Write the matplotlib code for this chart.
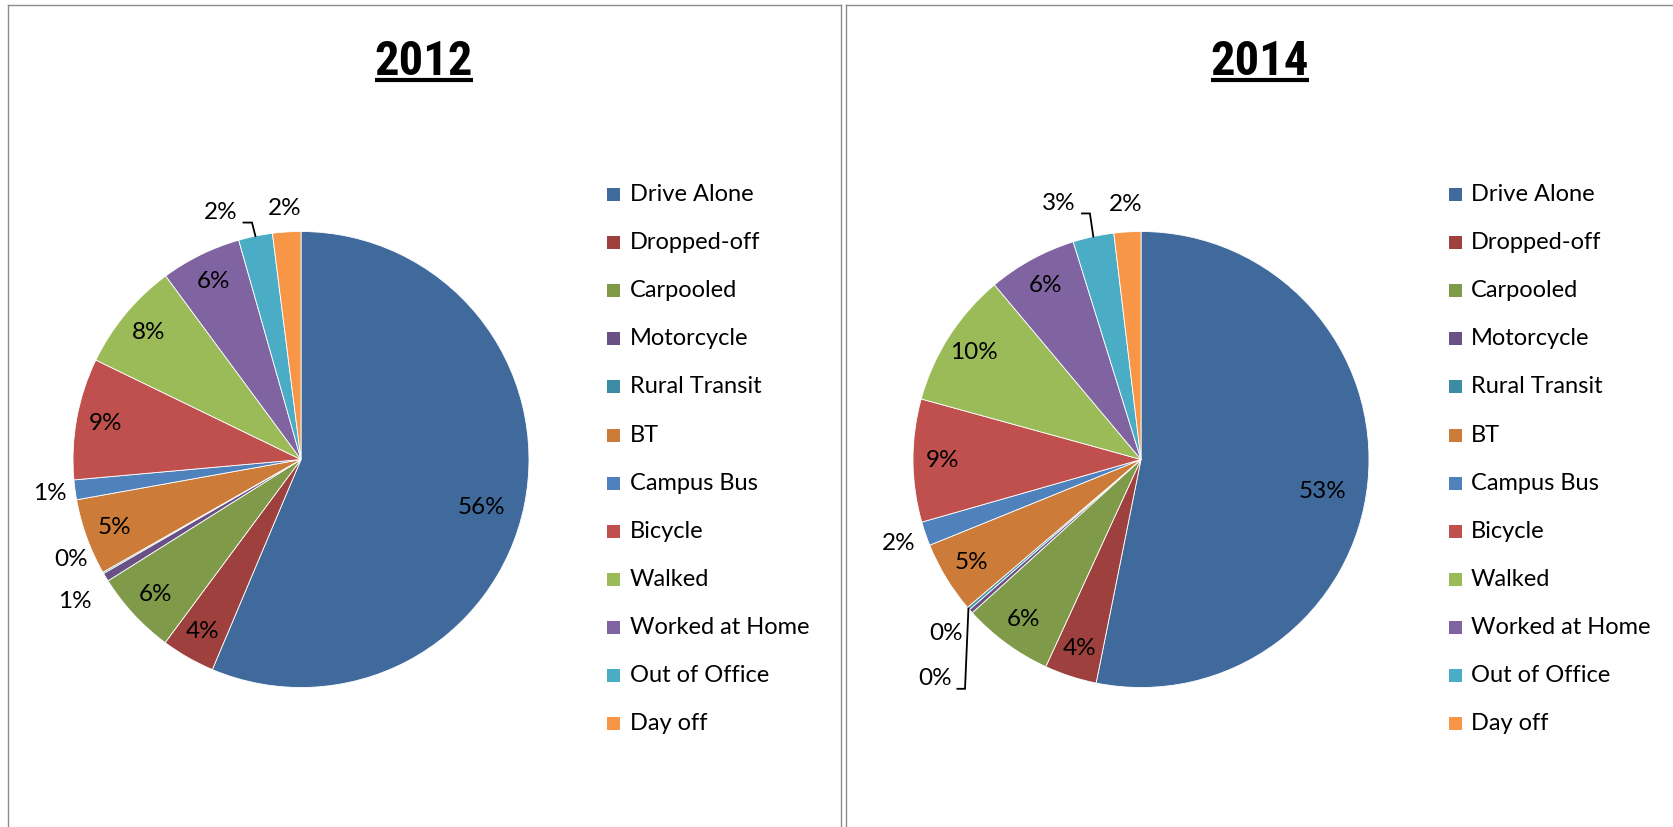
import matplotlib
matplotlib.use('Agg')
import matplotlib.pyplot as plt
from matplotlib.lines import Line2D
from matplotlib.patches import Rectangle
import numpy as np

W, H, DPI = 1674, 827, 100

categories = ['Drive Alone', 'Dropped-off', 'Carpooled', 'Motorcycle', 'Rural Transit',
              'BT', 'Campus Bus', 'Bicycle', 'Walked', 'Worked at Home',
              'Out of Office', 'Day off']
colors = ['#3F6A9B', '#9E413E', '#7F9A48', '#695185', '#3C8DA3', '#CC7B38',
          '#4F81BD', '#C0504D', '#9BBB59', '#8064A2', '#4BACC6', '#F79646']

years = ['2012', '2014']
values_2012 = [56.3, 3.8, 5.9, 0.6, 0.1, 5.4, 1.4, 8.6, 7.7, 5.7, 2.4, 2.0]
values_2014 = [53.1, 3.7, 6.4, 0.3, 0.2, 5.1, 1.7, 8.7, 9.6, 6.3, 2.9, 1.9]

plt.rcParams['font.family'] = ['Lato', 'DejaVu Sans']

fig = plt.figure(figsize=(W / DPI, H / DPI), dpi=DPI)
fig.patch.set_facecolor('white')

# layout (pixels)
panels = [dict(cx=301, cy=459.5, r=228, title_x=424, legend_sw=607, legend_tx=630),
          dict(cx=1141, cy=459.5, r=228, title_x=1260, legend_sw=1449, legend_tx=1471)]
# per-slice label placement: (radius factor, clockwise angle from top or None=mid, leader)
label_style = [
    {0: (0.82, 105, False), 3: (1.17, 237.9, False), 4: (1.10, 246.4, False),
     6: (1.11, None, False), 10: (1.14, 342.0, True), 11: (1.105, None, False)},
    {0: (0.81, 100, False), 3: (1.145, 228.3, False), 4: (1.32, 223.3, True),
     6: (1.125, None, False), 10: (1.18, 342.3, True), 11: (1.12, None, False)},
]
LIM = 1.4
FS_LABEL = 17.5
FS_LEG = 17

def fig_line(xs, ys, **kw):
    fig.add_artist(Line2D([x / W for x in xs], [1 - y / H for y in ys],
                          transform=fig.transFigure, **kw))

titles = []
for p, year, vals, lstyle in zip(panels, years, [values_2012, values_2014], label_style):
    half = p['r'] * LIM
    ax = fig.add_axes([(p['cx'] - half) / W, 1 - (p['cy'] + half) / H,
                       2 * half / W, 2 * half / H])
    ax.pie(vals, colors=colors, startangle=90, counterclock=False, radius=1,
           wedgeprops=dict(edgecolor='white', linewidth=0.6))
    ax.set_xlim(-LIM, LIM)
    ax.set_ylim(-LIM, LIM)
    ax.set_aspect('equal')
    ax.axis('off')

    total = sum(vals)
    cum = np.cumsum([0] + list(vals))
    for i, v in enumerate(vals):
        mid = (cum[i] + v / 2) / total * 360.0
        rf, ang, leader = lstyle.get(i, (0.87, None, False))
        a = mid if ang is None else ang
        lx, ly = rf * np.sin(np.radians(a)), rf * np.cos(np.radians(a))
        ax.text(lx, ly, f"{v / total * 100:.0f}%", ha='center', va='center',
                fontsize=FS_LABEL, color='black')
        if leader:
            ex, ey = np.sin(np.radians(mid)), np.cos(np.radians(mid))
            ax.plot([ex, ex - 0.015, lx + 0.1], [ey, ly - 0.045, ly - 0.045],
                    color='black', lw=1.3, solid_joinstyle='miter', clip_on=False)

    # legend
    for k, (cat, col) in enumerate(zip(categories, colors)):
        y = 194.3 + k * 48.15
        fig.add_artist(Rectangle((p['legend_sw'] / W, 1 - (y + 6.5) / H), 13 / W, 13 / H,
                                 transform=fig.transFigure, facecolor=col, edgecolor='none'))
        fig.text(p['legend_tx'] / W, 1 - y / H, cat, ha='left', va='center',
                 fontsize=FS_LEG, color='black')

    t = fig.text(p['title_x'] / W, 1 - 75 / H, year, ha='center', va='baseline',
                 fontsize=35, fontweight='bold', fontstretch='condensed',
                 family=['Roboto Condensed', 'Liberation Sans', 'DejaVu Sans'])
    titles.append(t)

# panel borders
gray = '#8C8C8C'
fig_line([8, 8], [5, H], color=gray, lw=1.0)
fig_line([841, 841], [5, H], color=gray, lw=1.0)
fig_line([846, 846], [5, H], color=gray, lw=1.0)
fig_line([8, 841], [5, 5], color=gray, lw=1.0)
fig_line([846, W], [5, 5], color=gray, lw=1.0)

fig.canvas.draw()
r = fig.canvas.get_renderer()
for t in titles:
    bb = t.get_window_extent(r)
    fig_line([bb.x0, bb.x1], [80, 80], color='black', lw=3.0, solid_capstyle='butt')

fig.savefig('out.png', dpi=DPI, facecolor='white')
